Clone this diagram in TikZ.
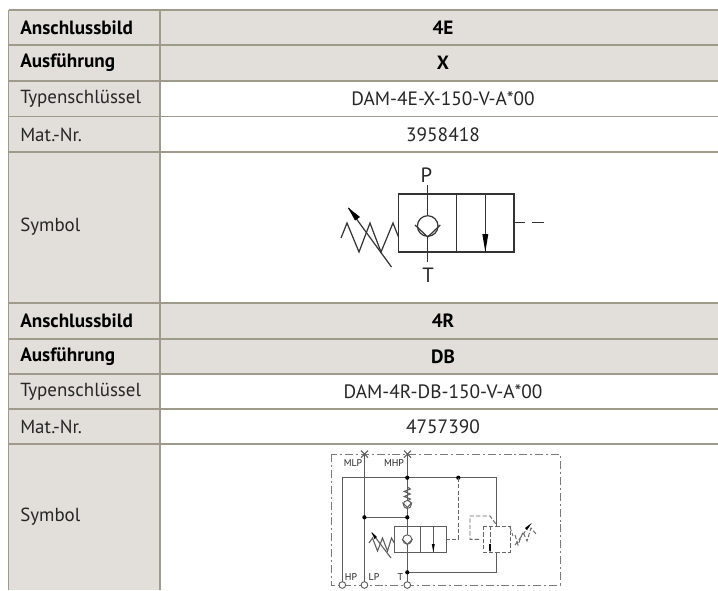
\documentclass[tikz,border=0pt]{standalone}
\usepackage{fontspec}
\setmainfont{PT Sans}
\definecolor{rowfill}{HTML}{E2DFDA}
\definecolor{rule}{HTML}{A09A8C}
\definecolor{ink}{HTML}{262626}
\definecolor{sym}{HTML}{333333}
\tikzset{
  lab/.style={anchor=west,font=\fontsize{14.2}{16}\selectfont,text=ink,inner sep=0pt},
  labb/.style={anchor=west,font=\fontsize{14.4}{16}\selectfont\bfseries,text=black,inner sep=0pt},
  val/.style={font=\fontsize{14.5}{16}\selectfont,text=ink,inner sep=0pt},
  valb/.style={font=\fontsize{14.4}{16}\selectfont\bfseries,text=black,inner sep=0pt},
  tl/.style={draw=rule,line width=1.05pt},
  sy/.style={draw=sym,line width=0.9pt},
  sm/.style={draw=sym!80,line width=0.8pt},
  dashl/.style={draw=sym!75,line width=0.7pt,dash pattern=on 3.2pt off 1.6pt},
  dd/.style={draw=sym!65,line width=0.75pt,dash pattern=on 6pt off 2.2pt on 1.5pt off 2.2pt},
  dotn/.style={circle,fill=black,inner sep=0pt,minimum size=3.2pt},
  port/.style={circle,draw=sym!80,fill=white,line width=0.7pt,inner sep=0pt,minimum size=5pt},
  tiny/.style={font=\fontsize{7.4}{8}\selectfont,text=ink,inner sep=0pt},
  pt/.style={font=\fontsize{15.5}{17}\selectfont,text=ink,inner sep=0pt}
}
\begin{document}
\begin{tikzpicture}[x=0.75pt,y=-0.75pt]
\useasboundingbox (0,0) rectangle (718,590);
\fill[white] (0,0) rectangle (718,590);
% fills
\fill[rowfill] (8.5,10) rectangle (160,590);
\fill[rowfill] (160,10) rectangle (718,81);
\fill[rowfill] (160,303) rectangle (718,374);
% rules
\foreach \y in {10,45,81,116.5,152,303,339,374,409,444}
  \draw[tl] (8.5,\y) -- (718,\y);
\draw[tl] (8.5,10) -- (8.5,590);
\draw[tl] (160,10) -- (160,590);
% text
\node[labb] (a1) at (20,27.5) {Anschlussbild};
\node[labb] (a2) at (20,63) {Ausführung};
\node[lab] (a3) at (20,99) {Typenschlüssel};
\node[lab] (a4) at (20,134.5) {Mat.-Nr.};
\node[lab] (a5) at (20,227) {Symbol};
\node[valb] (b1) at (443,27.5) {4E};
\node[valb] (b2) at (443,63) {X};
\node[val] (b3) at (443,99) {DAM-4E-X-150-V-A*00};
\node[val] (b4) at (443,134.5) {3958418};
\node[labb] (c1) at (20,321) {Anschlussbild};
\node[labb] (c2) at (20,356.5) {Ausführung};
\node[lab] (c3) at (20,392) {Typenschlüssel};
\node[lab] (c4) at (20,427) {Mat.-Nr.};
\node[lab] (c5) at (20,517) {Symbol};
\node[valb] (d1) at (443,321) {4R};
\node[valb] (d2) at (443,356.5) {DB};
\node[val] (d3) at (443,392) {DAM-4R-DB-150-V-A*00};
\node[val] (d4) at (443,427) {4757390};
% symbol 1
\node[pt] (p) at (426.5,175) {P};
\node[pt] (t) at (428,275.5) {T};
\draw[sy] (398.5,194) rectangle (514,252);
\draw[sy] (456.5,194) -- (456.5,252);
\draw[sy] (427.5,185) -- (427.5,216);
\draw[sy] (427.5,237) -- (427.5,262);
\draw[sy] (427.7,226) circle (10.3);
\draw[sy] (415,225) -- (427.7,237) -- (440.3,225);
\draw[sy] (485.3,194) -- (485.3,252);
\fill[black] (485.3,252) -- (482.3,234) -- (488.3,234) -- cycle;
\draw[sy] (514,222.5) -- (525,222.5);
\draw[sy] (532,222.5) -- (543.5,222.5);
\draw[sy,line join=miter] (341,238) -- (347,223) -- (359,252) -- (370,223) -- (381,252) -- (393,223) -- (398.5,237);
\draw[sy] (391.5,267) -- (348.5,208);
\fill[black] (348,207.5) -- (360,217) -- (355,220.5) -- cycle;
% symbol 2
\draw[dd] (331,454) rectangle (560,585);
\draw[sm] (342.3,477.7) -- (342.3,582);
\draw[sm] (342.3,477.7) -- (496.7,477.7) -- (496.7,526);
\draw[sm] (364.4,454) -- (364.4,582);
\draw[sm] (407.3,454) -- (407.3,582);
\draw[sm] (364.4,517.3) -- (407.3,517.3);
\draw[sm] (407.3,572.3) -- (496.7,572.3) -- (496.7,552.3);
\draw[sm] (361,450.5) -- (368,457.5) (368,450.5) -- (361,457.5);
\draw[sm] (404,450.5) -- (411,457.5) (411,450.5) -- (404,457.5);
\node[tiny] (mlp) at (353,463) {MLP};
\node[tiny] (mhp) at (394,463) {MHP};
\node[tiny] (hp) at (351,577) {HP};
\node[tiny] (lp) at (374,577) {LP};
\node[tiny] (tt) at (400.3,577) {T};
\node[port] (h1) at (342.3,585) {};
\node[port] (h2) at (364.4,585) {};
\node[port] (h3) at (407.3,585) {};
\node[dotn] at (407.3,477.7) {};
\node[dotn] at (407.3,517.3) {};
\node[dotn] at (364.4,517.3) {};
\node[dotn] at (407.3,572.3) {};
\node[dotn] at (458.3,477.7) {};
% spring + check
\draw[sm] (407.3,487) -- (410.3,489) -- (404.3,491.5) -- (410.3,494) -- (404.3,496.5) -- (410.3,499) -- (407.3,501);
\node[port,minimum size=6pt] at (407.3,504.5) {};
\draw[sm] (402.5,502.5) -- (407.3,507.5) -- (412,502.5);
% valve
\draw[sm,fill=white] (394.3,526.3) rectangle (446.7,552.3);
\draw[sm] (420.3,526.3) -- (420.3,552.3);
\draw[sm] (433.3,526.3) -- (433.3,552.3);
\fill[black] (433.3,552.3) -- (431.8,544) -- (434.8,544) -- cycle;
\node[port,minimum size=7pt] at (407.3,539.5) {};
\draw[sm] (402,539) -- (407.3,544.5) -- (412.5,539);
\draw[sm] (407.3,526.3) -- (407.3,535) (407.3,544) -- (407.3,552.3);
\draw[sm] (369,543) -- (372.5,538) -- (377.5,551) -- (382.5,538) -- (387.5,551) -- (391.5,538) -- (394.3,543);
\draw[sm] (391,558) -- (372,533);
\fill[black] (371.5,532) -- (377,537) -- (374.5,539) -- cycle;
% dashed parts
\draw[dashl] (458.3,477.7) -- (458.3,539.3) -- (446.7,539.3);
\draw[dashl] (479,539.3) -- (470,539.3) -- (470,516) -- (490,516) -- (496.7,525);
\draw[dashl] (483.3,526) rectangle (510,552.3);
\draw[dashl] (490,526) -- (490,552.3);
\fill[black] (489.2,544) -- (490.8,544) -- (491,550) -- (490,552) -- (489,550) -- cycle;
\draw[dashl] (510,527) -- (513,536);
\draw[dashl] (515,535) -- (518,545) -- (523,532) -- (527,541) -- (531,528) -- (536,534);
\draw[dashl] (515,545) -- (530,525);
\fill[black] (531.7,523) -- (527,530) -- (525,528) -- cycle;
\end{tikzpicture}
\end{document}
